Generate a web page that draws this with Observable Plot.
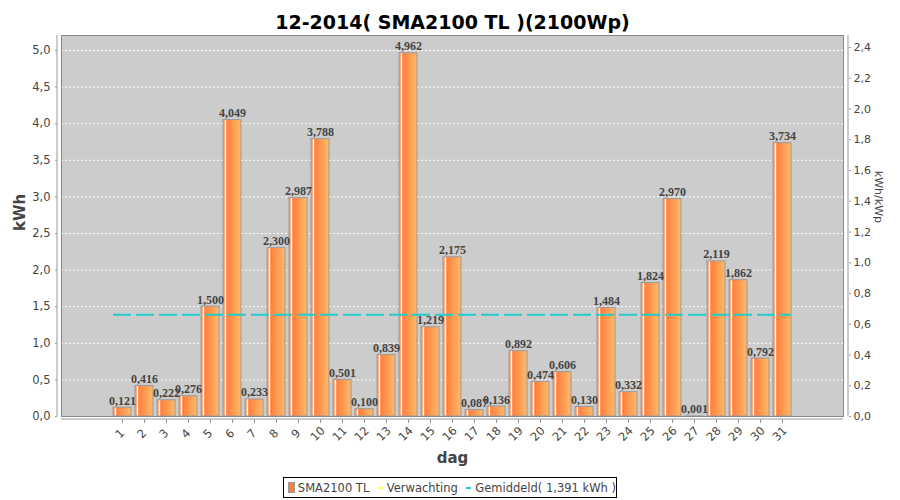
<!DOCTYPE html>
<html>
<head>
<meta charset="utf-8">
<script src="https://cdn.jsdelivr.net/npm/d3@7"></script>
<script src="https://cdn.jsdelivr.net/npm/@observablehq/plot@0.6"></script>
<style>
  html, body { margin: 0; padding: 0; background: #fff; }
  #wrap { position: relative; width: 900px; height: 500px; font-family: "DejaVu Sans", sans-serif; }
  #legend {
    position: absolute; left: 283px; top: 477px; width: 332px; height: 19px;
    border: 1px solid #000; background: #fff; display: flex; align-items: center;
    font-size: 11.5px; color: #444; box-sizing: content-box; white-space: nowrap;
  }
  #legend .sw { display: inline-block; width: 9px; height: 9px; background: #ff7f3f; border: 1px solid #999; margin: 0 3px 0 4px; }
  #legend .ln { display: inline-block; width: 10px; height: 2px; margin: 0 4px 0 8px; }
</style>
</head>
<body>
<div id="wrap"></div>
<script>
const title = "12-2014( SMA2100 TL )(2100Wp)";
const days = [1,2,3,4,5,6,7,8,9,10,11,12,13,14,15,16,17,18,19,20,21,22,23,24,25,26,27,28,29,30,31];
const kwh = [0.121,0.416,0.222,0.276,1.500,4.049,0.233,2.300,2.987,3.788,0.501,0.100,0.839,4.962,1.219,2.175,0.087,0.136,0.892,0.474,0.606,0.130,1.484,0.332,1.824,2.970,0.001,2.119,1.862,0.792,3.734];
const average = 1.391;
const kWp = 2.1;
const leftTicks = [0,0.5,1.0,1.5,2.0,2.5,3.0,3.5,4.0,4.5,5.0];
const rightTicks = [0,0.2,0.4,0.6,0.8,1.0,1.2,1.4,1.6,1.8,2.0,2.2,2.4];
const seriesName = "SMA2100 TL";
const expectName = "Verwachting";
const avgName = "Gemiddeld( 1,391 kWh )";

const rows = days.map((d, i) => ({day: d, kwh: kwh[i]}));
const f1 = v => d3.format(".1f")(v).replace(".", ",");
const f3 = v => d3.format(".3f")(v).replace(".", ",");

const extras = (index, scales, values, dims) => {
  const g = d3.create("svg:g");
  const grad = g.append("defs").append("linearGradient").attr("id", "barGrad")
    .attr("x1", 0).attr("x2", 1).attr("y1", 0).attr("y2", 0);
  [[0, "#ff9d5c"], [0.08, "#ffa066"], [0.1, "#ffffff"], [0.17, "#ffffff"], [0.2, "#ff7f3c"], [1, "#ffba68"]]
    .forEach(([o, c]) => grad.append("stop").attr("offset", o).attr("stop-color", c));
  const L = dims.marginLeft, R = dims.width - dims.marginRight;
  const T = dims.marginTop, B = dims.height - dims.marginBottom;
  g.append("line").attr("x1", L - 4).attr("x2", L - 4).attr("y1", T).attr("y2", B).attr("stroke", "#999");
  g.append("line").attr("x1", R + 5).attr("x2", R + 5).attr("y1", T).attr("y2", B).attr("stroke", "#999");
  g.append("line").attr("x1", L).attr("x2", R).attr("y1", B + 3).attr("y2", B + 3).attr("stroke", "#999");
  return g.node();
};

const chart = Plot.plot({
  width: 900,
  height: 500,
  marginTop: 35,
  marginBottom: 84,
  marginLeft: 61,
  marginRight: 57,
  style: {fontFamily: "DejaVu Sans, sans-serif", background: "#fff"},
  x: {type: "band", domain: days, paddingInner: 0.2, paddingOuter: 0.1, insetLeft: 35.5, insetRight: 36.5},
  y: {domain: [0, 5.205]},
  marks: [
    Plot.frame({fill: "#cccccc", stroke: "none"}),
    Plot.gridY(leftTicks.filter(v => v > 0), {stroke: "#ffffff", strokeOpacity: 1, strokeDasharray: "2,2"}),
    extras,
    Plot.barY(rows, {x: "day", y: "kwh", fill: "url(#barGrad)", stroke: "#999", strokeWidth: 1}),
    Plot.text(rows, {x: "day", y: "kwh", text: d => f3(d.kwh), lineAnchor: "bottom", dy: -3,
      fontFamily: "Liberation Serif, serif", fontWeight: "bold", fontSize: 12, fill: "#444"}),
    Plot.ruleY([average], {x1: days[0], x2: days[days.length - 1], stroke: "#22cccc", strokeWidth: 2, strokeDasharray: "18,5"}),
    Plot.frame({stroke: "#888"}),
    Plot.axisY(leftTicks, {anchor: "left", tickFormat: f1, tickSize: 2, tickPadding: 5, dx: -4,
      stroke: "#999", fill: "#444", fontSize: 11.5, label: null}),
    Plot.axisY(rightTicks.map(v => v * kWp), {anchor: "right", tickFormat: d => f1(d / kWp), tickSize: 2, tickPadding: 3, dx: 5,
      stroke: "#999", fill: "#444", fontSize: 11, label: null}),
    Plot.axisX({tickSize: 4, dy: 3, tickFormat: () => "", stroke: "#999", label: null}),
    Plot.text(days, {x: d => d, text: d => String(d), frameAnchor: "bottom", dy: 20, rotate: -45,
      fontSize: 11.5, fill: "#444"}),
    Plot.text([title], {text: d => d, frameAnchor: "top", dy: -20, fontSize: 19, fontWeight: "bold", fill: "#000"}),
    Plot.text(["dag"], {text: d => d, frameAnchor: "bottom", dy: 46, fontSize: 15, fontWeight: "bold", fill: "#444"}),
    Plot.text(["kWh"], {text: d => d, frameAnchor: "left", dx: -41, dy: 5, rotate: -90, fontSize: 15, fontWeight: "bold", fill: "#444"}),
    Plot.text(["kWh/kWp"], {text: d => d, frameAnchor: "right", dx: 35, dy: -3, rotate: 90, fontSize: 11, fill: "#444"})
  ]
});

const wrap = document.getElementById("wrap");
wrap.appendChild(chart);
chart.style.position = "absolute";
chart.style.left = "0";
chart.style.top = "0";

const legend = document.createElement("div");
legend.id = "legend";
legend.innerHTML =
  `<span class="sw"></span><span>${seriesName}</span>` +
  `<span class="ln" style="background:#ffff66"></span><span>${expectName}</span>` +
  `<span class="ln" style="background:#22cccc"></span><span>${avgName}</span>`;
wrap.appendChild(legend);
</script>
</body>
</html>
